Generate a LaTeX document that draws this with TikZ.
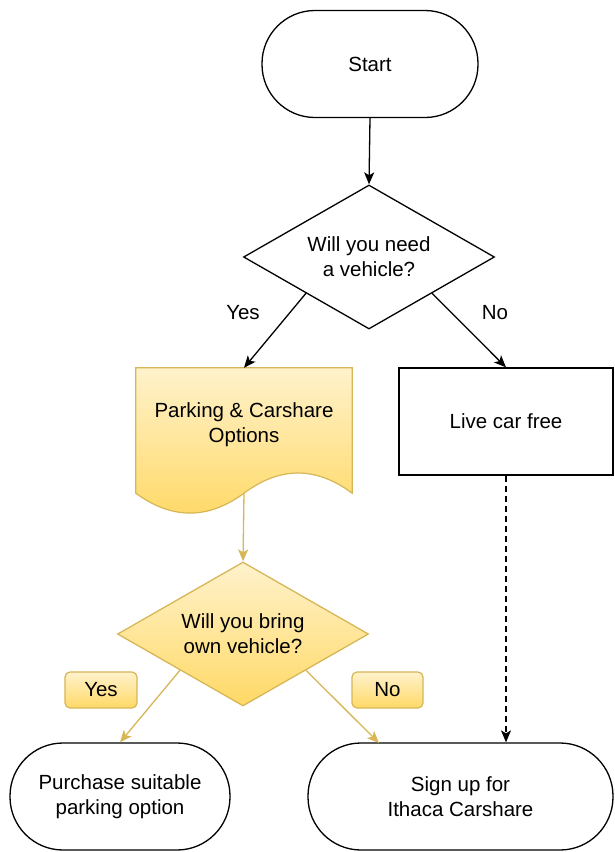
\documentclass[tikz,border=0pt]{standalone}
\usepackage{fontspec}
\setmainfont{Liberation Sans}
\usetikzlibrary{arrows.meta,shapes.geometric}
\definecolor{ylt}{HTML}{FFF2CC}
\definecolor{ydk}{HTML}{FFD966}
\definecolor{yline}{HTML}{D6B656}
\tikzset{
  base/.style={font=\fontsize{20.5}{25}\selectfont, align=center, text=black, inner sep=2pt},
  term/.style={base, draw, line width=1.3pt, rounded corners=53pt, minimum height=107pt},
  dec/.style={base, draw, diamond, aspect=1.75, minimum width=251pt, minimum height=144pt, line width=1.3pt},
  ydec/.style={dec, draw=yline, top color=ylt, bottom color=ydk},
  ytag/.style={base, draw=yline, rounded corners=5pt, top color=ylt, bottom color=ydk, minimum height=36pt, line width=1.2pt},
  arr/.style={-{Stealth[length=12pt,width=10pt,inset=3pt]}, line width=1.3pt},
  yarr/.style={arr, draw=yline}
}
\begin{document}
\begin{tikzpicture}[x=1pt,y=-1pt]
\useasboundingbox (0,0) rectangle (615,852);
% nodes
\node[term, minimum width=216pt] (start) at (370,64) {Start};
\node[dec] (d1) at (369,257) {Will you need\\a vehicle?};
\node[base] (yes1) at (243,313) {Yes};
\node[base] (no1) at (495,313) {No};
\node[minimum width=216pt, minimum height=125pt, inner sep=0pt] (doc) at (244,430.5) {};
\path[draw=yline, line width=1.2pt, top color=ylt, bottom color=ydk]
  (doc.north west) -- (doc.north east) -- (doc.south east)
  .. controls (316,466.3) and (280,466.3) .. (doc.south)
  .. controls (208,519.7) and (172,519.7) .. (doc.south west) -- cycle;
\node[base] (doctext) at (244,425) {Parking \& Carshare\\Options};
\node[base, draw, line width=1.3pt, minimum width=214pt, minimum height=107pt] (live) at (506,421.5) {Live car free};
\node[ydec] (d2) at (243,634) {Will you bring\\own vehicle?};
\node[ytag, minimum width=72pt] (yes2) at (101,690) {Yes};
\node[ytag, minimum width=71pt] (no2) at (387.5,690) {No};
\node[term, minimum width=220pt] (buy) at (120,796.5) {Purchase suitable\\parking option};
\node[term, minimum width=305pt] (sign) at (460.5,796.5) {Sign up for\\Ithaca Carshare};
\coordinate (signin) at (379,743);
% connectors
\draw[arr] (start.south) -- (d1.north);
\draw[arr] (d1.south west) -- (doc.north);
\draw[arr] (d1.south east) -- (live.north);
\draw[yarr] (doc.south) -- (d2.north);
\draw[yarr] (d2.south west) -- (buy.north);
\draw[yarr] (d2.south east) -- (signin);
\draw[arr, dash pattern=on 6pt off 4pt] (live.south) -- (live.south |- sign.north);
\end{tikzpicture}
\end{document}
